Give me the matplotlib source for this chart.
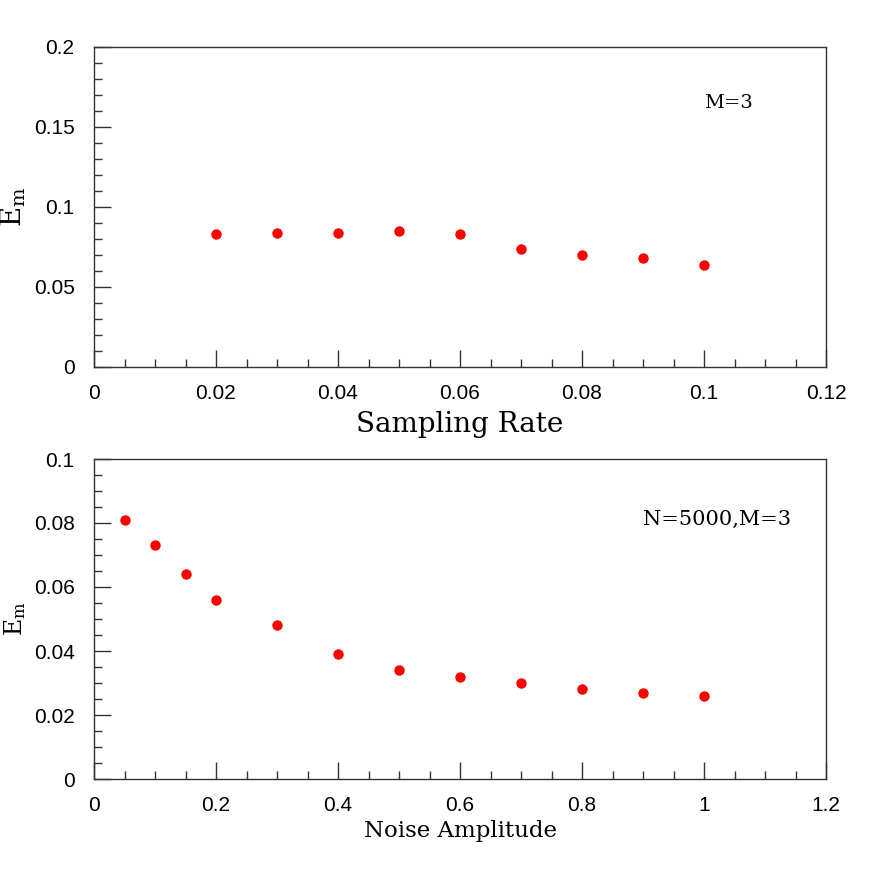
import matplotlib
matplotlib.use("Agg")
import matplotlib.pyplot as plt
from matplotlib.ticker import MultipleLocator, FuncFormatter

plt.rcParams["mathtext.fontset"] = "dejavuserif"

sampling_rate = [0.02, 0.03, 0.04, 0.05, 0.06, 0.07, 0.08, 0.09, 0.10]
em_sampling = [0.083, 0.084, 0.084, 0.085, 0.083, 0.074, 0.070, 0.068, 0.064]

noise_amp = [0.05, 0.1, 0.15, 0.2, 0.3, 0.4, 0.5, 0.6, 0.7, 0.8, 0.9, 1.0]
em_noise = [0.081, 0.073, 0.064, 0.056, 0.048, 0.039, 0.034, 0.032, 0.030, 0.028, 0.027, 0.026]

W = 872
fig = plt.figure(figsize=(8.72, 8.72), dpi=100)

def fmt(v, pos):
    return "%g" % round(v, 6)

def px_axes(l, t, r, b):
    return fig.add_axes([l / W, 1 - b / W, (r - l) / W, (b - t) / W])

edge = "#333333"

def style(ax, xmaj, xmin, ymaj, ymin):
    ax.xaxis.set_major_locator(MultipleLocator(xmaj))
    ax.xaxis.set_minor_locator(MultipleLocator(xmin))
    ax.yaxis.set_major_locator(MultipleLocator(ymaj))
    ax.yaxis.set_minor_locator(MultipleLocator(ymin))
    ax.xaxis.set_major_formatter(FuncFormatter(fmt))
    ax.yaxis.set_major_formatter(FuncFormatter(fmt))
    ax.tick_params(which="both", direction="in", top=False, right=False, color=edge, width=1)
    ax.tick_params(which="major", length=12)
    ax.tick_params(axis="x", which="major", pad=12)
    ax.tick_params(axis="y", which="major", pad=14)
    ax.tick_params(which="minor", length=6)
    for lab in ax.get_xticklabels() + ax.get_yticklabels():
        lab.set_fontfamily("Liberation Sans")
        lab.set_fontsize(15)
    for sp in ax.spines.values():
        sp.set_color(edge)
        sp.set_linewidth(1)

# Top panel
ax1 = px_axes(94, 47, 826, 367)
ax1.plot(sampling_rate, em_sampling, "o", color="#ff0000", ms=7.5, mec="none")
ax1.set_xlim(0, 0.12)
ax1.set_ylim(0, 0.2)
style(ax1, 0.02, 0.005, 0.05, 0.01)
ax1.set_xlabel("Sampling Rate", family="DejaVu Serif", fontsize=20, labelpad=6)
ax1.set_ylabel(r"$\mathrm{E_m}$", fontsize=20, labelpad=4)
ax1.text(0.1, 0.165, "M=3", family="DejaVu Serif", fontsize=14, va="center", ha="left")

# Bottom panel
ax2 = px_axes(94, 459, 826, 779)
ax2.plot(noise_amp, em_noise, "o", color="#ff0000", ms=7.5, mec="none")
ax2.set_xlim(0, 1.2)
ax2.set_ylim(0, 0.1)
style(ax2, 0.2, 0.05, 0.02, 0.005)
ax2.set_xlabel("Noise Amplitude", family="DejaVu Serif", fontsize=16.5, labelpad=4)
ax2.set_ylabel(r"$\mathrm{E_m}$", fontsize=17, labelpad=4)
ax2.text(0.9, 0.081, "N=5000,M=3", family="DejaVu Serif", fontsize=15, va="center", ha="left")

fig.savefig("out.png", dpi=100)
